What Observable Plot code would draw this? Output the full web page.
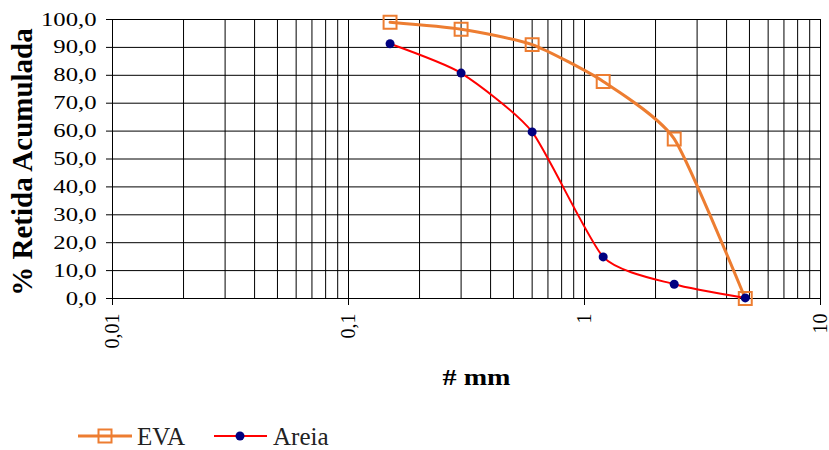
<!DOCTYPE html>
<html><head><meta charset="utf-8">
<script src="https://cdn.jsdelivr.net/npm/d3@7"></script>
<script src="https://cdn.jsdelivr.net/npm/@observablehq/plot@0.6"></script>
<style>
body{margin:0;background:#fff;}
#chart{width:829px;}
#chart svg{display:block;}
</style></head><body><div id="chart"></div>
<script>
const sizes = [0.15, 0.3, 0.6, 1.2, 2.4, 4.8];
const eva = [99.0, 96.5, 91.0, 77.8, 57.2, 0.0];
const areia = [91.3, 80.8, 59.7, 14.9, 5.1, 0.2];
const xTicks = [0.01, 0.1, 1, 10];
const yTicks = [0, 10, 20, 30, 40, 50, 60, 70, 80, 90, 100];
const seriesNames = ["EVA", "Areia"];
const evaColor = "#ED7D31", areiaColor = "#FF0000", areiaDot = "#000080";

const FONT = "Liberation Serif";
const evaData = sizes.map((s, i) => ({x: s, y: eva[i]}));
const areiaData = sizes.map((s, i) => ({x: s, y: areia[i]}));
const xGrid = d3.scaleLog().domain([0.01, 10]).ticks();

const svg = Plot.plot({
  width: 829, height: 410,
  marginLeft: 112, marginRight: 9, marginTop: 19, marginBottom: 112,
  style: {background: "#fff", color: "#000", overflow: "visible"},
  x: {type: "log", domain: [0.01, 10]},
  y: {domain: [0, 100]},
  marks: [
    Plot.gridX(xGrid, {stroke: "#000", strokeOpacity: 1, strokeWidth: 1}),
    Plot.gridY(yTicks, {stroke: "#000", strokeOpacity: 1, strokeWidth: 1}),
    Plot.frame({stroke: "#000", strokeWidth: 1}),
    Plot.axisX(xTicks, {tickSize: 7, tickPadding: 8, tickRotate: -90, fontSize: 20,
      tickFormat: d => String(d).replace(".", ","), label: null}),
    Plot.axisY(yTicks, {tickSize: 6, tickPadding: 10, fontSize: 19,
      tickFormat: d => d.toFixed(1).replace(".", ","), label: null}),
    Plot.line(evaData, {x: "x", y: "y", stroke: evaColor, strokeWidth: 3, curve: "cardinal", tension: 0.4}),
    Plot.dot(evaData, {x: "x", y: "y", symbol: "square", r: 7.3, stroke: evaColor, strokeWidth: 2, fill: "none"}),
    Plot.line(areiaData, {x: "x", y: "y", stroke: areiaColor, strokeWidth: 2, curve: "cardinal", tension: 0.4}),
    Plot.dot(areiaData, {x: "x", y: "y", r: 4.5, fill: areiaDot, stroke: "none"}),
    Plot.text(["% Retida Acumulada"], {text: d => d, frameAnchor: "left", textAnchor: "middle", dx: -90, dy: 3, rotate: -90,
      fontSize: 29, fontWeight: "bold", fill: "#000"}),
    Plot.text(["# mm"], {text: d => d, frameAnchor: "bottom", dx: 10, dy: 86, fontSize: 24, fontWeight: "bold", fill: "#000"})
  ]
});
document.getElementById("chart").appendChild(svg);
svg.setAttribute("font-family", FONT);
svg.style.fontFamily = FONT;
svg.querySelectorAll("text").forEach(t => { t.setAttribute("font-family", FONT); t.style.fontFamily = FONT; });

function stretch(el, f) {
  el.removeAttribute("textLength");
  const L = el.getComputedTextLength();
  el.setAttribute("textLength", L * f);
  el.setAttribute("lengthAdjust", "spacingAndGlyphs");
}
function applyStretch() {
  svg.querySelectorAll('g[aria-label="y-axis tick label"] text').forEach(t => stretch(t, 1.3));
  svg.querySelectorAll('g[aria-label="text"] text').forEach(t => { if (t.textContent === "# mm") stretch(t, 1.17); });
}
applyStretch();
if (document.fonts && document.fonts.ready) document.fonts.ready.then(applyStretch);

// legend below the plot
const leg = d3.select("#chart").append("svg").attr("width", 829).attr("height", 40)
  .attr("font-family", FONT).style("font-family", FONT);
const items = [
  {name: seriesNames[0], x0: 78, x1: 132, cx: 105, tx: 137},
  {name: seriesNames[1], x0: 214, x1: 267, cx: 240, tx: 273}
];
leg.append("line").attr("x1", items[0].x0).attr("x2", items[0].x1).attr("y1", 26).attr("y2", 26)
  .attr("stroke", evaColor).attr("stroke-width", 3);
leg.append("rect").attr("x", items[0].cx - 6.5).attr("y", 26 - 6.5).attr("width", 13).attr("height", 13)
  .attr("fill", "none").attr("stroke", evaColor).attr("stroke-width", 2);
leg.append("line").attr("x1", items[1].x0).attr("x2", items[1].x1).attr("y1", 26).attr("y2", 26)
  .attr("stroke", areiaColor).attr("stroke-width", 2);
leg.append("circle").attr("cx", items[1].cx).attr("cy", 26).attr("r", 4.5).attr("fill", areiaDot);
items.forEach(it => {
  leg.append("text").attr("x", it.tx).attr("y", 35).attr("font-size", 25).attr("fill", "#222")
    .style("font-family", FONT).text(it.name);
});
</script></body></html>
